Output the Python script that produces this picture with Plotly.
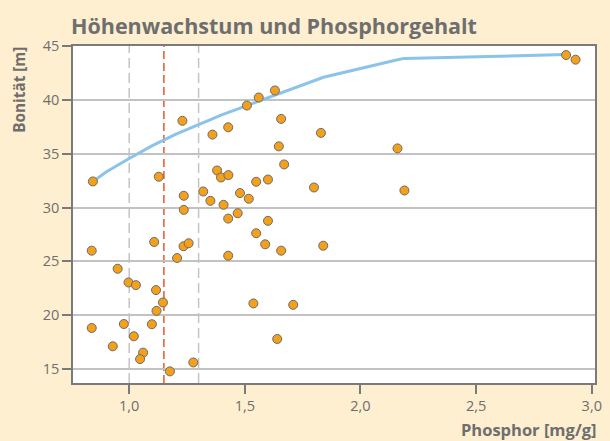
import plotly.graph_objects as go

# Scatter data: Phosphor [mg/g] vs Bonität [m]
phosphor = [0.843, 1.230, 1.509, 1.560, 1.630, 1.657, 1.360, 1.428, 1.829, 1.647,
            1.670, 1.128, 1.380, 1.397, 1.429, 1.549, 1.600, 1.799, 1.236, 1.320,
            1.351, 1.408, 1.479, 1.517, 1.236, 1.428, 1.469, 1.600, 2.889, 2.930,
            2.160, 2.190, 1.549, 1.588, 1.657, 1.839, 0.838, 1.108, 1.235, 1.257,
            1.207, 1.428, 0.950, 0.997, 1.029, 1.116, 1.146, 1.118, 1.537, 1.709,
            0.838, 0.977, 1.098, 1.020, 0.929, 1.640, 1.060, 1.047, 1.277, 1.176]
bonitaet = [32.42, 38.05, 39.47, 40.22, 40.87, 38.23, 36.77, 37.45, 36.93, 35.68,
            34.00, 32.86, 33.44, 32.79, 33.01, 32.39, 32.60, 31.86, 31.09, 31.49,
            30.62, 30.25, 31.34, 30.81, 29.78, 28.97, 29.47, 28.76, 44.16, 43.73,
            35.49, 31.58, 27.61, 26.58, 25.99, 26.45, 25.99, 26.80, 26.40, 26.68,
            25.31, 25.52, 24.31, 23.04, 22.79, 22.33, 21.18, 20.40, 21.09, 20.96,
            18.81, 19.18, 19.16, 18.04, 17.11, 17.79, 16.52, 15.92, 15.61, 14.78]

# Upper envelope curve
curve_x = [0.843, 0.9, 1.0, 1.1, 1.2, 1.3, 1.4, 1.5, 1.6, 1.7, 1.84, 2.16, 2.19, 2.89]
curve_y = [32.40, 33.30, 34.55, 35.75, 36.80, 37.70, 38.60, 39.40, 40.20, 40.95, 42.10, 43.72, 43.85, 44.20]

# Reference lines
grey_lines = [1.0, 1.3]
red_lines = [1.15]

x_ticks = [1.0, 1.5, 2.0, 2.5, 3.0]
x_ticklabels = ["1,0", "1,5", "2,0", "2,5", "3,0"]
y_ticks = [15, 20, 25, 30, 35, 40, 45]

FONT = "Open Sans"
GREY = "#6e6e6e"
BG = "#FEEFD0"

fig = go.Figure()
fig.add_trace(go.Scatter(x=curve_x, y=curve_y, mode="lines",
                         line=dict(color="#8CC3EA", width=3), hoverinfo="skip"))
fig.add_trace(go.Scatter(x=phosphor, y=bonitaet, mode="markers",
                         marker=dict(size=9, color="#F5A01B",
                                     line=dict(color="#6b6b6b", width=1))))

shapes = []
for v in grey_lines:
    shapes.append(dict(type="line", xref="x", yref="paper", x0=v, x1=v, y0=0, y1=1,
                       line=dict(color="#c4c4c4", width=1.5, dash="10px,5px"), layer="below"))
for v in red_lines:
    shapes.append(dict(type="line", xref="x", yref="paper", x0=v, x1=v, y0=0, y1=1,
                       line=dict(color="#E8582C", width=1.5, dash="8px,4px"), layer="below"))

fig.update_layout(
    width=610, height=441,
    margin=dict(l=73, r=8, t=46, b=58),
    paper_bgcolor=BG, plot_bgcolor="white",
    showlegend=False,
    font=dict(family=FONT, color=GREY, size=14),
    shapes=shapes,
    annotations=[
        dict(text="<b>Höhenwachstum und Phosphorgehalt</b>", xref="paper", yref="paper",
             x=-0.008, y=1.06, xanchor="left", yanchor="middle", showarrow=False,
             font=dict(family=FONT, size=21.5, color=GREY)),
        dict(text="<b>Bonität [m]</b>", xref="paper", yref="paper",
             x=-0.104, y=1.003, xanchor="center", yanchor="top", textangle=-90,
             showarrow=False, font=dict(family=FONT, size=15.3, color=GREY)),
        dict(text="<b>Phosphor [mg/g]</b>", xref="paper", yref="paper",
             x=1.008, y=-0.138, xanchor="right", yanchor="middle", showarrow=False,
             font=dict(family=FONT, size=16.5, color=GREY)),
    ],
)
fig.update_xaxes(range=[0.757, 3.014], tickvals=x_ticks, ticktext=x_ticklabels,
                 showgrid=False, zeroline=False, showline=True, mirror=True,
                 linecolor="#7a7a7a", linewidth=1.5, ticks="outside", ticklen=9,
                 tickcolor="#7a7a7a", tickwidth=1.5, tickfont=dict(size=14.5, color=GREY))
fig.update_yaxes(range=[13.7, 45], tickvals=y_ticks,
                 showgrid=True, gridcolor="#c2c2c2", gridwidth=1.5, zeroline=False,
                 showline=True, mirror=True, linecolor="#7a7a7a", linewidth=1.5,
                 ticks="outside", ticklen=9, tickcolor="#7a7a7a", tickwidth=1.5,
                 tickfont=dict(size=14.5, color=GREY))

fig.write_html("out.html", config={"displayModeBar": False},
               post_script="document.body.style.margin='0px';"
                           "document.body.style.background='" + BG + "';")
